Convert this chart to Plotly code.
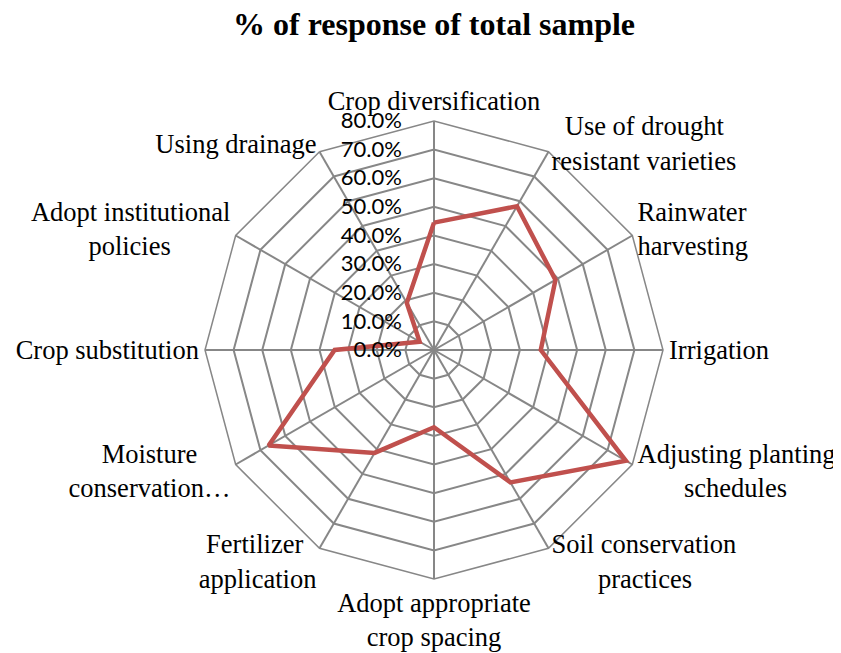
import plotly.graph_objects as go

# ---- data ----
categories = [
    "Crop diversification",
    "Use of drought resistant varieties",
    "Rainwater harvesting",
    "Irrigation",
    "Adjusting planting schedules",
    "Soil conservation practices",
    "Adopt appropriate crop spacing",
    "Fertilizer application",
    "Moisture conservation…",
    "Crop substitution",
    "Adopt institutional policies",
    "Using drainage",
]
values = [0.445, 0.58, 0.49, 0.373, 0.774, 0.534, 0.27, 0.415, 0.667, 0.347, 0.058, 0.19]
radial_ticks = [0.0, 0.1, 0.2, 0.3, 0.4, 0.5, 0.6, 0.7, 0.8]

# ---- label layout (line wrapping, centring and vertical nudges) ----
NB = "\u00a0"
label_lines = {
    "Crop diversification": ["Crop diversification"],
    "Use of drought resistant varieties": [NB * 2 + "Use of drought", "resistant varieties"],
    "Rainwater harvesting": ["Rainwater", "harvesting"],
    "Irrigation": ["Irrigation"],
    "Adjusting planting schedules": ["Adjusting planting", NB * 7 + "schedules"],
    "Soil conservation practices": ["Soil conservation", NB * 7 + "practices"],
    "Adopt appropriate crop spacing": ["Adopt appropriate", "crop spacing"],
    "Fertilizer application": ["Fertilizer" + NB * 2, "application"],
    "Moisture conservation…": ["Moisture" + NB * 5, "conservation…"],
    "Crop substitution": ["Crop substitution"],
    "Adopt institutional policies": ["Adopt institutional", "policies" + NB * 9],
    "Using drainage": ["Using drainage"],
}
# (blank lines before, blank lines after) to centre multi-line labels vertically
nudges = {
    "Use of drought resistant varieties": (9, 0),
    "Rainwater harvesting": (1, 0),
    "Adjusting planting schedules": (0, 2),
    "Soil conservation practices": (0, 11),
    "Fertilizer application": (0, 11),
    "Moisture conservation…": (0, 2),
    "Adopt institutional policies": (1, 0),
    "Using drainage": (3, 0),
}


def tick_text(cat):
    before, after = nudges.get(cat, (0, 0))
    lines = [NB] * before + label_lines[cat] + [NB] * after
    return "<br>".join(lines)


GRID = "#878787"

fig = go.Figure()
fig.add_trace(go.Scatterpolar(
    r=values + [values[0]],
    theta=categories + [categories[0]],
    mode="lines",
    line=dict(color="#C0504D", width=4.5),
    showlegend=False,
    hoverinfo="skip",
))

OFF = 8  # page body margin
W, H = 841 - OFF, 653 - OFF
cx, cy, R = 434 - OFF, 350 - OFF, 229
fig.update_layout(
    width=W, height=H,
    margin=dict(l=0, r=0, t=0, b=0),
    paper_bgcolor="white",
    plot_bgcolor="white",
    title=dict(text="% of response of total sample",
               font=dict(family="Liberation Serif", size=32, color="black", weight="bold"),
               x=cx / W, xanchor="center", y=1 - 5 / H, yanchor="top"),
    polar=dict(
        domain=dict(x=[(cx - R) / W, (cx + R) / W],
                    y=[(H - cy - R) / H, (H - cy + R) / H]),
        gridshape="linear",
        bgcolor="white",
        angularaxis=dict(
            rotation=90, direction="clockwise",
            categoryorder="array", categoryarray=categories,
            tickmode="array", tickvals=categories,
            ticktext=[tick_text(c) for c in categories],
            showline=True, linecolor=GRID, linewidth=1.5,
            gridcolor=GRID, gridwidth=1.5,
            ticks="",
            tickfont=dict(family="Liberation Serif", size=26.5, color="black"),
        ),
        radialaxis=dict(
            range=[0, 0.8], tickvals=radial_ticks, tickformat=".1%",
            angle=90, tickangle=90, side="counterclockwise",
            showline=False, gridcolor=GRID, gridwidth=1.5,
            ticks="outside", ticklen=24, tickcolor="rgba(0,0,0,0)",
            tickfont=dict(family="Lato", size=22, color="black"),
        ),
    ),
)

fig.write_html("out.html")
